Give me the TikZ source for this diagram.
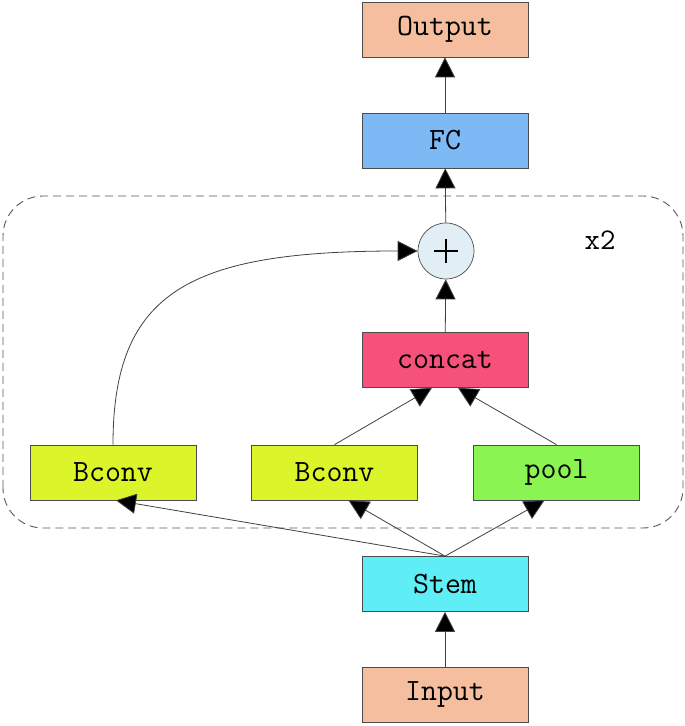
\documentclass[tikz,border=0pt]{standalone}
\usepackage{fontspec}
\setmonofont{Latin Modern Mono}
\usepackage{tikz}
\usetikzlibrary{positioning,arrows.meta,shapes,backgrounds,fit}

\definecolor{ioclr}{RGB}{245,190,159}
\definecolor{fcclr}{RGB}{125,185,245}
\definecolor{catclr}{RGB}{245,81,122}
\definecolor{bconvclr}{RGB}{220,245,43}
\definecolor{poolclr}{RGB}{138,245,82}
\definecolor{stemclr}{RGB}{95,238,245}
\definecolor{sumclr}{RGB}{226,238,245}

\begin{document}
\begin{tikzpicture}[
            x=1pt, y=1pt,
            block/.style={draw=black!70, line width=0.7pt, minimum width=166pt, minimum height=55pt, inner sep=0pt, font=\fontsize{31}{32}\selectfont\ttfamily},
            sumnode/.style={circle, draw=black!70, line width=0.7pt, fill=sumclr, minimum size=56pt, inner sep=0pt},
            link/.style={draw=black!75, line width=0.8pt, -{Triangle[length=20pt,width=20pt,fill=black]}},
            >=latex
        ]
        \useasboundingbox (0,0) rectangle (685,726);
        % repeated block
        \draw[black!65, line width=0.9pt, dash pattern=on 8pt off 5pt, rounded corners=40pt] (3,198) rectangle (683,530);
        \node at (600,486) (times) {\fontsize{30}{31}\selectfont\ttfamily x2};

        \node[block, fill=ioclr] (input) at (445,31.5) {Input};
        \node[block, fill=stemclr] (stem) at (445,142) {Stem};
        \node[block, fill=bconvclr] (bconvA) at (113,253.5) {Bconv};
        \node[block, fill=bconvclr] (bconvB) at (334.5,253.5) {Bconv};
        \node[block, fill=poolclr] (pool) at (556.5,253.5) {pool};
        \node[block, fill=catclr] (concat) at (445,366) {concat};
        \node[sumnode] (sum) at (446,475) {};
        \draw[line width=2pt] ([xshift=-12pt]sum.center) -- ([xshift=12pt]sum.center)
            ([yshift=-12pt]sum.center) -- ([yshift=12pt]sum.center);
        \node[block, fill=fcclr] (fc) at (445,585.5) {FC};
        \node[block, fill=ioclr] (output) at (445,696.5) {Output};

        \draw[link] (input) -- (stem);
        \draw[link] (stem.north) -- ([xshift=3pt]bconvA.south);
        \draw[link] (stem.north) -- ([xshift=14pt]bconvB.south);
        \draw[link] (stem.north) -- ([xshift=-12pt]pool.south);
        \draw[link] (bconvB.north) -- ([xshift=-13pt]concat.south);
        \draw[link] (pool.north) -- ([xshift=13pt]concat.south);
        \draw[link] (concat) -- (sum);
        \draw[link] (bconvA.north) .. controls (113,435) and (190,475) .. (sum.west);
        \draw[link] (sum) -- (fc);
        \draw[link] (fc) -- (output);
\end{tikzpicture}
\end{document}
